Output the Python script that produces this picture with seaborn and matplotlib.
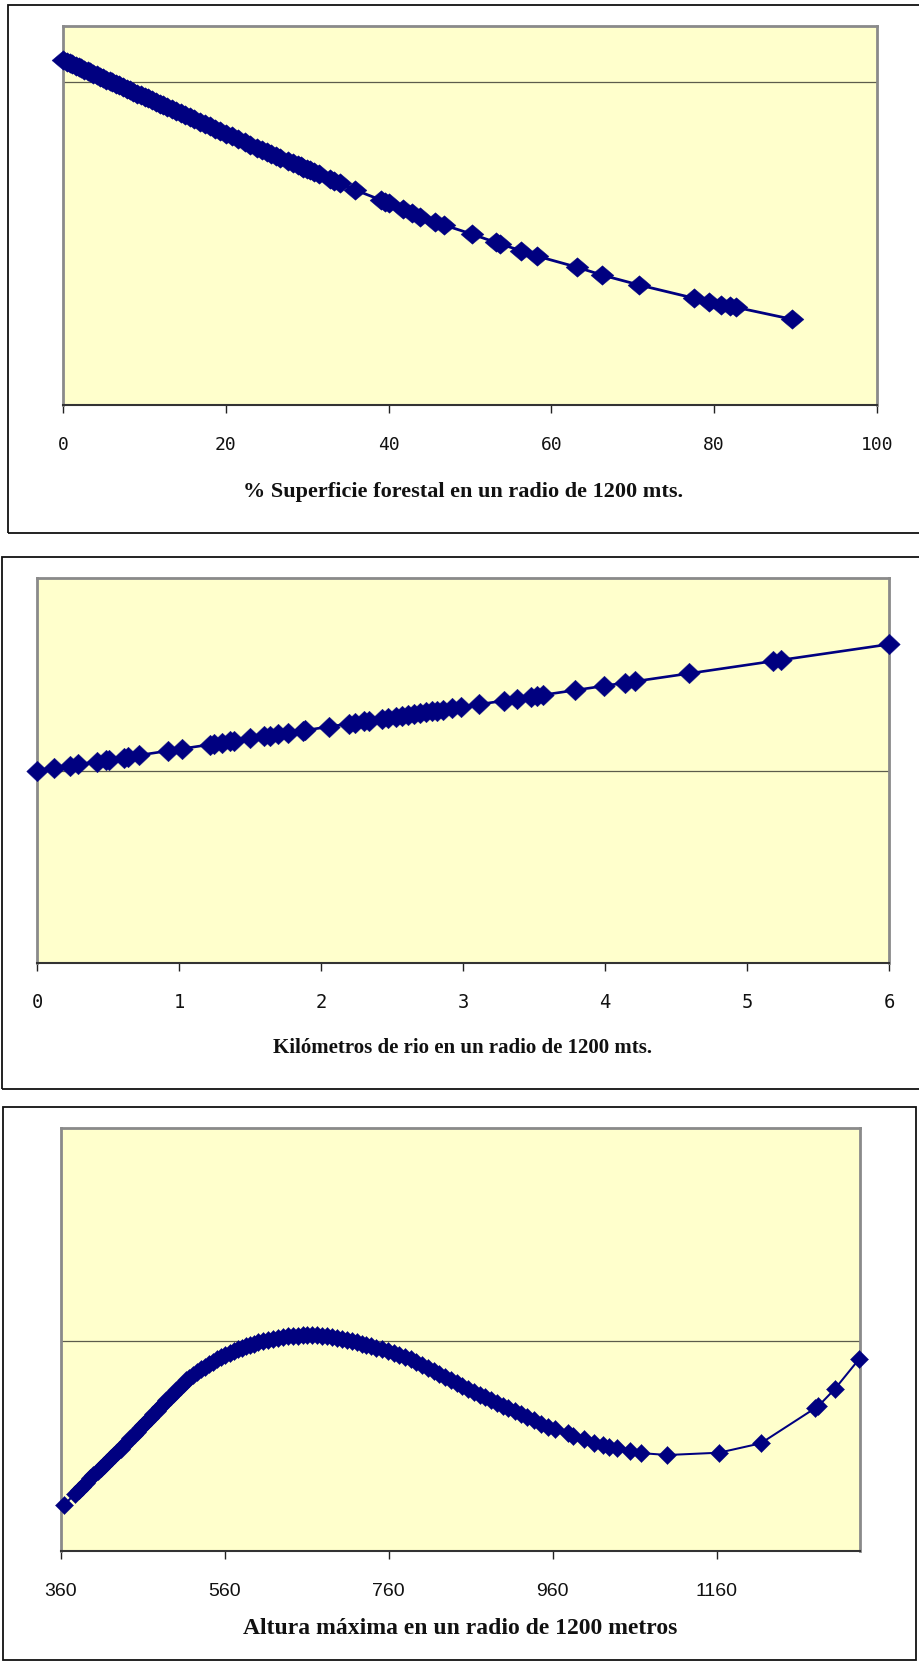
import matplotlib
matplotlib.use("Agg")
import matplotlib.pyplot as plt
import seaborn as sns
from matplotlib.path import Path
from matplotlib.patches import Rectangle

# --- Panel 1: forest cover within 1200 m -----------------------------------
forest_pct = [0, 0.4, 0.8, 1.1, 1.5, 1.9, 2.2, 2.6, 3.0, 3.3,
              3.7, 4.1, 4.5, 4.9, 5.3, 5.7, 6.0, 6.5, 6.9, 7.3,
              7.8, 8.2, 8.6, 9.1, 9.5, 10.0, 10.4, 10.9, 11.4, 11.9,
              12.3, 12.8, 13.4, 13.9, 14.5, 15.0, 15.6, 16.1, 16.8, 17.4,
              18.0, 18.7, 19.3, 20.0, 20.7, 21.5, 22.3, 23.0, 23.8,
              24.4, 25.0, 25.5, 26.2, 26.7, 27.6, 28.3, 28.8, 29.2, 29.5,
              29.9, 30.3, 30.8, 31.4, 32.8, 33.3, 34.0, 35.9,
              39.0, 39.6, 40.0, 41.8, 42.9, 43.9, 45.7, 46.8,
              50.3, 53.2, 53.7, 56.3, 58.2, 63.2, 66.2, 70.8,
              77.6, 79.4, 80.9, 82.0, 82.7, 89.6]
forest_resp = [0.220, 0.205, 0.191, 0.180, 0.165, 0.150, 0.139, 0.124, 0.110, 0.099,
               0.084, 0.069, 0.054, 0.040, 0.025, 0.010, -0.001, -0.019, -0.034, -0.049,
               -0.067, -0.082, -0.096, -0.115, -0.130, -0.148, -0.163, -0.181, -0.200, -0.218,
               -0.233, -0.251, -0.273, -0.292, -0.314, -0.332, -0.354, -0.372, -0.398, -0.420,
               -0.442, -0.468, -0.490, -0.516, -0.542, -0.571, -0.601, -0.626, -0.656,
               -0.677, -0.698, -0.716, -0.740, -0.758, -0.789, -0.814, -0.831, -0.845, -0.856,
               -0.870, -0.884, -0.901, -0.922, -0.971, -0.989, -1.013, -1.080,
               -1.179, -1.198, -1.211, -1.275, -1.313, -1.347, -1.397, -1.430,
               -1.523, -1.605, -1.620, -1.687, -1.740, -1.853, -1.930, -2.030,
               -2.163, -2.197, -2.230, -2.245, -2.253, -2.373]
forest_ticks = [0, 20, 40, 60, 80, 100]

# --- Panel 2: river length within 1200 m ------------------------------------
river_km = [0.00, 0.12, 0.235, 0.29, 0.42, 0.485, 0.51, 0.61, 0.64, 0.72,
            0.92, 1.02, 1.215, 1.25, 1.30, 1.36, 1.39, 1.50, 1.60, 1.64,
            1.70, 1.77, 1.87, 1.89, 2.055, 2.20, 2.24, 2.30, 2.335, 2.43,
            2.47, 2.53, 2.57, 2.61, 2.655, 2.70, 2.74, 2.78, 2.82, 2.86,
            2.92, 2.985, 3.11, 3.29, 3.38, 3.48, 3.52, 3.565, 3.79, 3.99,
            4.14, 4.21, 4.59, 5.18, 5.24, 6.00]
river_resp = [0.000, 0.026, 0.051, 0.062, 0.090, 0.104, 0.110, 0.131, 0.138, 0.155,
              0.198, 0.219, 0.261, 0.268, 0.279, 0.292, 0.298, 0.322, 0.343, 0.351,
              0.364, 0.379, 0.400, 0.404, 0.440, 0.470, 0.479, 0.492, 0.499, 0.519,
              0.527, 0.540, 0.549, 0.557, 0.567, 0.576, 0.585, 0.593, 0.601, 0.610,
              0.623, 0.636, 0.663, 0.700, 0.719, 0.740, 0.749, 0.758, 0.805, 0.847,
              0.879, 0.893, 0.972, 1.095, 1.107, 1.264]
river_ticks = [0, 1, 2, 3, 4, 5, 6]

# --- Panel 3: maximum altitude within 1200 m ---------------------------------
alt_max = [364, 377, 382, 386, 391, 396, 400,
           405, 409, 413, 417, 421, 425, 429, 433, 437, 441,
           445, 449, 453, 457, 461, 465, 469, 473, 477, 481,
           485, 489, 493, 497, 501, 505, 509, 513, 517, 521,
           526, 531, 536, 541, 546, 551, 556, 561, 566, 571,
           576, 581, 586, 591, 596, 601, 607, 613, 619, 625,
           631, 637, 643, 649, 655, 661, 667, 673, 679, 685,
           691, 697, 703, 709, 715, 721, 727, 733, 739, 745,
           752, 759, 766, 773, 780, 787, 794, 801, 808, 815,
           822, 829, 836, 843, 850, 857, 864, 871, 878, 885,
           892, 899, 906, 914, 921, 929, 937, 946, 955, 963,
           979, 985, 998, 1010, 1022, 1029, 1038, 1054, 1068, 1100,
           1163, 1214, 1280, 1284, 1304, 1334]
alt_resp = [-1.643, -1.535, -1.493, -1.460, -1.418, -1.377, -1.343,
            -1.302, -1.271, -1.240, -1.208, -1.177, -1.146, -1.114, -1.080, -1.045, -1.011,
            -0.977, -0.942, -0.908, -0.873, -0.839, -0.804, -0.770, -0.735, -0.701, -0.666,
            -0.632, -0.597, -0.564, -0.530, -0.497, -0.463, -0.430, -0.396, -0.370, -0.345,
            -0.315, -0.285, -0.260, -0.235, -0.210, -0.187, -0.163, -0.140, -0.121, -0.104,
            -0.086, -0.070, -0.056, -0.041, -0.028, -0.017, -0.004, 0.009, 0.019, 0.030,
            0.037, 0.044, 0.049, 0.052, 0.055, 0.057, 0.057, 0.057, 0.051, 0.045,
            0.037, 0.027, 0.017, 0.006, -0.005, -0.017, -0.030, -0.043, -0.056, -0.070,
            -0.086, -0.103, -0.122, -0.140, -0.163, -0.185, -0.211, -0.240, -0.269, -0.300,
            -0.331, -0.363, -0.396, -0.427, -0.456, -0.485, -0.514, -0.540, -0.566, -0.592,
            -0.620, -0.648, -0.676, -0.705, -0.731, -0.761, -0.793, -0.829, -0.859, -0.886,
            -0.926, -0.950, -0.985, -1.020, -1.045, -1.058, -1.070, -1.100, -1.124, -1.143,
            -1.120, -1.026, -0.676, -0.655, -0.486, -0.183]
alt_ticks = [360, 560, 760, 960, 1160]

forest_label = "% Superficie forestal en un radio de 1200 mts."
river_label = "Kilómetros de rio en un radio de 1200 mts."
alt_label = "Altura máxima en un radio de 1200 metros"

sns.set_theme(style="white")
plt.rcParams["font.family"] = ["DejaVu Sans"]

W, H = 920, 1666
NAVY = "#000080"
PLOT_BG = "#FFFFCC"

fig = plt.figure(figsize=(W / 100, H / 100), dpi=100)
fig.patch.set_facecolor("white")


def px_rect(left, top, right, bottom):
    """Convert a pixel box (origin top-left) into figure fractions."""
    return [left / W, 1 - bottom / H, (right - left) / W, (bottom - top) / H]


def diamond(ratio):
    verts = [(-1, 0), (0, ratio), (1, 0), (0, -ratio), (-1, 0)]
    codes = [Path.MOVETO, Path.LINETO, Path.LINETO, Path.LINETO, Path.CLOSEPOLY]
    return Path(verts, codes)


def outer_box(left, top, right, bottom):
    l, b, w, h = px_rect(left, top, right, bottom)
    fig.add_artist(Rectangle((l, b), w, h, transform=fig.transFigure,
                             fill=False, edgecolor="#111111", linewidth=1.3))


def panel(rect, xs, ys, xlim, ylim, ticks, tick_font, tick_size, tick_pad,
          label, label_size, label_xy, ms, ratio, lw):
    ax = fig.add_axes(px_rect(*rect))
    ax.set_facecolor(PLOT_BG)
    ax.axhline(0, color="#5c5c4c", linewidth=0.9, zorder=1)
    sns.lineplot(x=xs, y=ys, ax=ax, color=NAVY, linewidth=lw,
                 marker=diamond(ratio), markersize=ms,
                 markeredgecolor=NAVY, markeredgewidth=0.3,
                 sort=False, legend=False, zorder=3, clip_on=False)
    ax.set_xlim(*xlim)
    ax.set_ylim(*ylim)
    ax.set_xticks(ticks)
    ax.set_xticklabels([str(t) for t in ticks])
    ax.set_yticks([])
    ax.set_ylabel("")
    ax.tick_params(axis="x", bottom=True, direction="out", length=5.8,
                   width=1.0, color="#222222", pad=tick_pad,
                   labelsize=tick_size, labelcolor="#111111")
    for lab in ax.get_xticklabels():
        lab.set_family(tick_font)
    for side in ("left", "top", "right"):
        ax.spines[side].set_color("#8a8a8a")
        ax.spines[side].set_linewidth(2.0)
    ax.spines["bottom"].set_color("#333333")
    ax.spines["bottom"].set_linewidth(1.5)
    ax.spines["bottom"].set_zorder(4)
    ax.set_xlabel(label, fontfamily="Liberation Serif", fontweight="bold",
                  fontsize=label_size, color="#111111")
    ax.xaxis.label.set_va("center")
    ax.xaxis.set_label_coords(*label_xy)
    return ax


# outer frames
outer_box(8.3, 5, 935, 533.3)
outer_box(1.8, 556.7, 935, 1089.3)
outer_box(2.7, 1106.7, 915.7, 1660)

panel((63.3, 26, 876.7, 405.3), forest_pct, forest_resp,
      (0, 100), (-3.233, 0.56), forest_ticks, "DejaVu Sans Mono", 13, 16.0,
      forest_label, 16, (0.491, -0.2286), 16.5, 0.85, 2.0)

panel((37, 578.3, 889, 962.7), river_km, river_resp,
      (0, 6), (-1.92, 1.924), river_ticks, "DejaVu Sans Mono", 13.5, 16.0,
      river_label, 15, (0.5, -0.222), 15.5, 0.95, 1.9)

panel((60.7, 1128.3, 860, 1550.7), alt_max, alt_resp,
      (360, 1335), (-2.10, 2.124), alt_ticks, "Liberation Sans", 14, 17.5,
      alt_label, 17, (0.5, -0.185), 13.0, 1.0, 1.45)

fig.savefig("out.png", dpi=100, facecolor="white")
